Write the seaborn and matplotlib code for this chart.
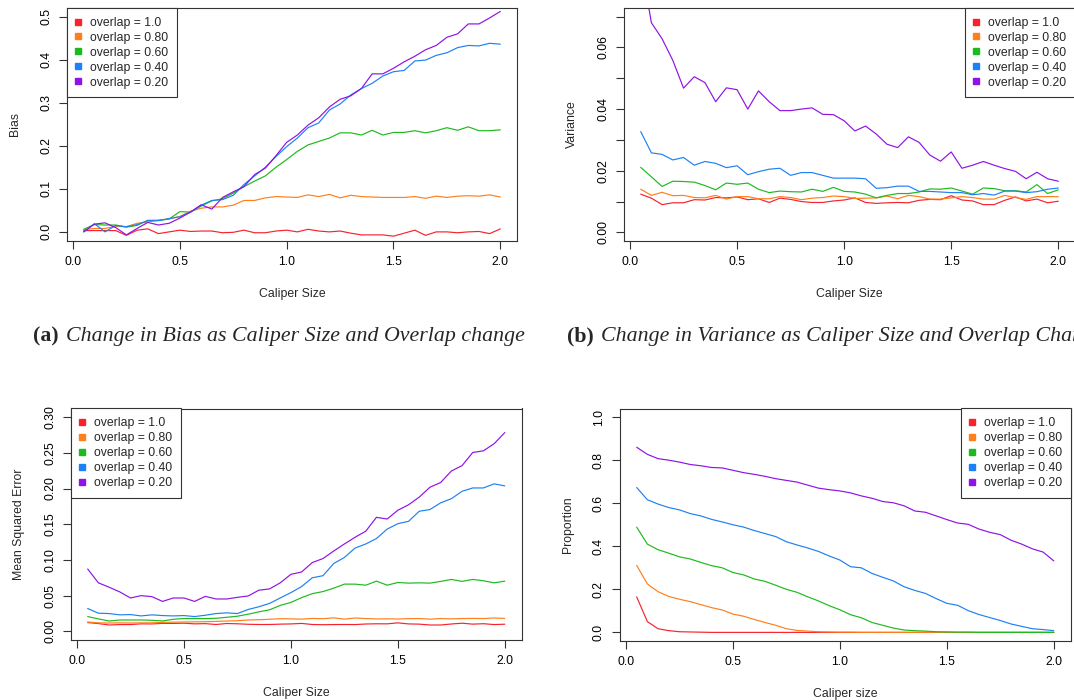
import numpy as np
import pandas as pd
import matplotlib
matplotlib.use("Agg")
import matplotlib.pyplot as plt
import seaborn as sns
from matplotlib.lines import Line2D
from matplotlib.ticker import FixedLocator, FuncFormatter

sns.set_style("white")
plt.rcParams["font.family"] = ["Liberation Sans", "DejaVu Sans"]

caliper = [0.05, 0.10, 0.15, 0.20, 0.25, 0.30, 0.35, 0.40, 0.45, 0.50,
           0.55, 0.60, 0.65, 0.70, 0.75, 0.80, 0.85, 0.90, 0.95, 1.00,
           1.05, 1.10, 1.15, 1.20, 1.25, 1.30, 1.35, 1.40, 1.45, 1.50,
           1.55, 1.60, 1.65, 1.70, 1.75, 1.80, 1.85, 1.90, 1.95, 2.00]

overlaps = ["overlap = 1.0", "overlap = 0.80", "overlap = 0.60", "overlap = 0.40", "overlap = 0.20"]
colors = ["#F8222E", "#FF7F1A", "#1DBA1D", "#1E80F5", "#8F12E6"]

# (a) Bias
bias_100 = [0.003, 0.003, 0.003, 0.003, -0.008, 0.004, 0.007, -0.004, 0.000, 0.004,
            0.001, 0.002, 0.002, -0.002, -0.001, 0.004, -0.002, -0.002, 0.002, 0.004,
            0.000, 0.006, 0.002, 0.000, 0.002, -0.003, -0.007, -0.007, -0.007, -0.010,
            -0.003, 0.004, -0.008, 0.000, 0.000, -0.002, 0.000, 0.001, -0.004, 0.007]
bias_080 = [0.005, 0.008, 0.008, 0.013, 0.012, 0.020, 0.023, 0.027, 0.030, 0.036,
            0.048, 0.055, 0.058, 0.058, 0.062, 0.073, 0.073, 0.079, 0.082, 0.081,
            0.080, 0.086, 0.082, 0.087, 0.079, 0.085, 0.082, 0.081, 0.080, 0.080,
            0.080, 0.082, 0.078, 0.083, 0.080, 0.083, 0.084, 0.083, 0.086, 0.081]
bias_060 = [0.006, 0.017, 0.016, 0.016, 0.011, 0.015, 0.027, 0.027, 0.030, 0.047,
            0.046, 0.060, 0.072, 0.077, 0.090, 0.105, 0.118, 0.130, 0.150, 0.168,
            0.187, 0.202, 0.210, 0.218, 0.230, 0.230, 0.225, 0.236, 0.225, 0.231,
            0.231, 0.235, 0.230, 0.235, 0.242, 0.236, 0.244, 0.235, 0.235, 0.237]
bias_040 = [0.000, 0.019, 0.000, 0.015, 0.012, 0.017, 0.026, 0.026, 0.031, 0.035,
            0.046, 0.062, 0.073, 0.075, 0.085, 0.110, 0.130, 0.150, 0.175, 0.198,
            0.218, 0.242, 0.253, 0.283, 0.297, 0.318, 0.333, 0.345, 0.362, 0.372,
            0.375, 0.397, 0.399, 0.410, 0.416, 0.428, 0.433, 0.432, 0.438, 0.436]
bias_020 = [0.000, 0.018, 0.021, 0.010, -0.007, 0.008, 0.022, 0.016, 0.020, 0.032,
            0.046, 0.063, 0.053, 0.080, 0.093, 0.105, 0.133, 0.148, 0.177, 0.208,
            0.225, 0.248, 0.265, 0.290, 0.308, 0.316, 0.333, 0.367, 0.367, 0.380,
            0.395, 0.408, 0.423, 0.433, 0.452, 0.460, 0.483, 0.483, 0.497, 0.512]

# (b) Variance
var_100 = [0.0124, 0.0111, 0.0090, 0.0096, 0.0096, 0.0106, 0.0105, 0.0113, 0.0112, 0.0115,
           0.0106, 0.0109, 0.0097, 0.0111, 0.0107, 0.0100, 0.0097, 0.0097, 0.0102, 0.0105,
           0.0112, 0.0097, 0.0094, 0.0096, 0.0097, 0.0096, 0.0104, 0.0107, 0.0106, 0.0119,
           0.0105, 0.0102, 0.0090, 0.0090, 0.0104, 0.0115, 0.0102, 0.0108, 0.0096, 0.0101]
var_080 = [0.0140, 0.0120, 0.0130, 0.0119, 0.0120, 0.0113, 0.0112, 0.0120, 0.0108, 0.0116,
           0.0116, 0.0109, 0.0109, 0.0116, 0.0113, 0.0106, 0.0111, 0.0113, 0.0118, 0.0116,
           0.0110, 0.0111, 0.0112, 0.0118, 0.0109, 0.0120, 0.0116, 0.0108, 0.0108, 0.0112,
           0.0116, 0.0113, 0.0108, 0.0108, 0.0120, 0.0113, 0.0107, 0.0116, 0.0116, 0.0116]
var_060 = [0.0211, 0.0180, 0.0149, 0.0166, 0.0165, 0.0163, 0.0152, 0.0138, 0.0160, 0.0156,
           0.0160, 0.0140, 0.0129, 0.0134, 0.0132, 0.0131, 0.0140, 0.0133, 0.0146, 0.0133,
           0.0131, 0.0124, 0.0112, 0.0120, 0.0126, 0.0126, 0.0131, 0.0141, 0.0140, 0.0144,
           0.0134, 0.0124, 0.0144, 0.0142, 0.0135, 0.0135, 0.0131, 0.0155, 0.0126, 0.0138]
var_040 = [0.0327, 0.0258, 0.0253, 0.0235, 0.0243, 0.0218, 0.0230, 0.0224, 0.0210, 0.0216,
           0.0187, 0.0197, 0.0205, 0.0208, 0.0185, 0.0194, 0.0194, 0.0185, 0.0176, 0.0176,
           0.0176, 0.0174, 0.0143, 0.0145, 0.0150, 0.0150, 0.0133, 0.0133, 0.0131, 0.0129,
           0.0129, 0.0122, 0.0126, 0.0121, 0.0134, 0.0134, 0.0129, 0.0132, 0.0140, 0.0144]
var_020 = [0.0880, 0.0680, 0.0628, 0.0558, 0.0468, 0.0505, 0.0486, 0.0424, 0.0469, 0.0463,
           0.0400, 0.0459, 0.0424, 0.0395, 0.0395, 0.0400, 0.0404, 0.0383, 0.0382, 0.0362,
           0.0329, 0.0345, 0.0319, 0.0286, 0.0275, 0.0310, 0.0292, 0.0251, 0.0231, 0.0261,
           0.0208, 0.0218, 0.0230, 0.0218, 0.0207, 0.0198, 0.0174, 0.0195, 0.0174, 0.0166]

# (c) Mean squared error
mse_100 = [0.0124, 0.0110, 0.0090, 0.0096, 0.0096, 0.0106, 0.0105, 0.0113, 0.0112, 0.0115,
           0.0106, 0.0109, 0.0097, 0.0111, 0.0107, 0.0100, 0.0097, 0.0097, 0.0102, 0.0105,
           0.0112, 0.0097, 0.0094, 0.0096, 0.0097, 0.0096, 0.0104, 0.0107, 0.0106, 0.0120,
           0.0105, 0.0102, 0.0090, 0.0090, 0.0104, 0.0115, 0.0102, 0.0108, 0.0096, 0.0101]
mse_080 = [0.0132, 0.0120, 0.0118, 0.0120, 0.0118, 0.0120, 0.0120, 0.0126, 0.0130, 0.0132,
           0.0134, 0.0136, 0.0140, 0.0146, 0.0150, 0.0160, 0.0164, 0.0170, 0.0178, 0.0176,
           0.0172, 0.0182, 0.0178, 0.0190, 0.0172, 0.0188, 0.0180, 0.0175, 0.0176, 0.0174,
           0.0178, 0.0180, 0.0172, 0.0180, 0.0176, 0.0180, 0.0182, 0.0180, 0.0188, 0.0182]
mse_060 = [0.0208, 0.0175, 0.0146, 0.0160, 0.0160, 0.0160, 0.0156, 0.0146, 0.0170, 0.0180,
           0.0180, 0.0180, 0.0184, 0.0198, 0.0213, 0.0241, 0.0274, 0.0302, 0.0364, 0.0406,
           0.0473, 0.0529, 0.0558, 0.0605, 0.0662, 0.0662, 0.0647, 0.0704, 0.0647, 0.0685,
           0.0676, 0.0680, 0.0676, 0.0700, 0.0728, 0.0700, 0.0728, 0.0709, 0.0680, 0.0704]
mse_040 = [0.0321, 0.0255, 0.0250, 0.0232, 0.0236, 0.0217, 0.0232, 0.0222, 0.0217, 0.0222,
           0.0208, 0.0227, 0.0250, 0.0260, 0.0250, 0.0307, 0.0345, 0.0392, 0.0468, 0.0543,
           0.0628, 0.0751, 0.0780, 0.0950, 0.1035, 0.1167, 0.1224, 0.1300, 0.1432, 0.1508,
           0.1541, 0.1682, 0.1706, 0.1800, 0.1857, 0.1961, 0.2008, 0.2008, 0.2065, 0.2037]
mse_020 = [0.0874, 0.0680, 0.0619, 0.0553, 0.0468, 0.0501, 0.0487, 0.0420, 0.0468, 0.0468,
           0.0420, 0.0491, 0.0454, 0.0454, 0.0477, 0.0496, 0.0577, 0.0595, 0.0680, 0.0799,
           0.0832, 0.0964, 0.1020, 0.1125, 0.1224, 0.1318, 0.1403, 0.1597, 0.1573, 0.1696,
           0.1772, 0.1880, 0.2018, 0.2084, 0.2245, 0.2320, 0.2504, 0.2528, 0.2627, 0.2783]

# (d) Proportion
prop_100 = [0.165, 0.050, 0.017, 0.008, 0.003, 0.002, 0.001, 0.000, 0.000, 0.000,
            0.000, 0.000, 0.000, 0.000, 0.000, 0.000, 0.000, 0.000, 0.000, 0.000,
            0.000, 0.000, 0.000, 0.000, 0.000, 0.000, 0.000, 0.000, 0.000, 0.000,
            0.000, 0.000, 0.000, 0.000, 0.000, 0.000, 0.000, 0.000, 0.000, 0.000]
prop_080 = [0.311, 0.225, 0.189, 0.167, 0.154, 0.143, 0.129, 0.115, 0.104, 0.085,
            0.075, 0.060, 0.046, 0.033, 0.017, 0.009, 0.006, 0.003, 0.002, 0.001,
            0.001, 0.000, 0.000, 0.000, 0.000, 0.000, 0.000, 0.000, 0.000, 0.000,
            0.000, 0.000, 0.000, 0.000, 0.000, 0.000, 0.000, 0.000, 0.000, 0.000]
prop_060 = [0.489, 0.410, 0.384, 0.368, 0.351, 0.341, 0.325, 0.310, 0.300, 0.278,
            0.267, 0.248, 0.237, 0.219, 0.200, 0.186, 0.165, 0.146, 0.124, 0.105,
            0.082, 0.068, 0.046, 0.033, 0.020, 0.011, 0.008, 0.006, 0.003, 0.002,
            0.001, 0.001, 0.000, 0.000, 0.000, 0.000, 0.000, 0.000, 0.000, 0.000]
prop_040 = [0.673, 0.616, 0.596, 0.580, 0.569, 0.552, 0.541, 0.525, 0.513, 0.500,
            0.489, 0.473, 0.459, 0.445, 0.421, 0.406, 0.392, 0.376, 0.355, 0.336,
            0.305, 0.300, 0.274, 0.256, 0.239, 0.212, 0.195, 0.181, 0.157, 0.135,
            0.126, 0.101, 0.083, 0.069, 0.055, 0.039, 0.028, 0.017, 0.013, 0.008]
prop_020 = [0.860, 0.827, 0.807, 0.800, 0.791, 0.780, 0.774, 0.766, 0.764, 0.753,
            0.742, 0.734, 0.725, 0.714, 0.706, 0.698, 0.684, 0.670, 0.663, 0.657,
            0.648, 0.634, 0.623, 0.608, 0.602, 0.588, 0.564, 0.558, 0.541, 0.524,
            0.508, 0.502, 0.480, 0.465, 0.454, 0.428, 0.410, 0.388, 0.373, 0.332]

W, H = 1074, 700
fig = plt.figure(figsize=(W / 100, H / 100), dpi=100)


def rect(left, top, right, bottom):
    return [left / W, 1 - bottom / H, (right - left) / W, (bottom - top) / H]


panels = [
    dict(series=[bias_100, bias_080, bias_060, bias_040, bias_020],
         rect=rect(67, 8, 517, 240.5), ylim=(0, 0.5),
         yticks=[0.0, 0.1, 0.2, 0.3, 0.4, 0.5], fmt="{:.1f}", show=None,
         ylabel="Bias", xlabel="Caliper Size", loc="upper left"),
    dict(series=[var_100, var_080, var_060, var_040, var_020],
         rect=rect(624, 8, 1075, 241), ylim=(0, 0.07),
         yticks=[0.0, 0.01, 0.02, 0.03, 0.04, 0.05, 0.06, 0.07], fmt="{:.2f}",
         show=[0.0, 0.02, 0.04, 0.06],
         ylabel="Variance", xlabel="Caliper Size", loc="upper right"),
    dict(series=[mse_100, mse_080, mse_060, mse_040, mse_020],
         rect=rect(71, 408.5, 521.5, 640), ylim=(0, 0.3),
         yticks=[0.0, 0.05, 0.10, 0.15, 0.20, 0.25, 0.30], fmt="{:.2f}", show=None,
         ylabel="Mean Squared Error", xlabel="Caliper Size", loc="upper left"),
    dict(series=[prop_100, prop_080, prop_060, prop_040, prop_020],
         rect=rect(620, 408.5, 1070.5, 641), ylim=(0, 1.0),
         yticks=[0.0, 0.2, 0.4, 0.6, 0.8, 1.0], fmt="{:.1f}", show=None,
         ylabel="Proportion", xlabel="Caliper size", loc="upper right"),
]

FS = 8.8
EDGE = "#333333"

for p in panels:
    ax = fig.add_axes(p["rect"])
    rows = []
    for name, vals in zip(overlaps, p["series"]):
        for c, v in zip(caliper, vals):
            rows.append({"caliper": c, "value": v, "overlap": name})
    df = pd.DataFrame(rows)
    sns.lineplot(data=df, x="caliper", y="value", hue="overlap",
                 hue_order=overlaps, palette=colors, estimator=None,
                 linewidth=0.85, legend=False, ax=ax)
    # R-style 4% axis extension
    x0, x1 = min(caliper), max(caliper)
    dx = (x1 - x0) * 0.04
    ax.set_xlim(x0 - dx, x1 + dx)
    y0, y1 = p["ylim"]
    dy = (y1 - y0) * 0.04
    ax.set_ylim(y0 - dy, y1 + dy)

    ax.xaxis.set_major_locator(FixedLocator([0.0, 0.5, 1.0, 1.5, 2.0]))
    ax.xaxis.set_major_formatter(FuncFormatter(lambda v, pos: f"{v:.1f}"))
    ax.yaxis.set_major_locator(FixedLocator(p["yticks"]))
    show = p["show"]
    fmt = p["fmt"]

    def yf(v, pos, show=show, fmt=fmt):
        if show is not None and not any(abs(v - s) < 1e-9 for s in show):
            return ""
        return fmt.format(v)

    ax.yaxis.set_major_formatter(FuncFormatter(yf))
    ax.tick_params(axis="both", which="major", direction="out", length=5.8,
                   width=0.8, color=EDGE, labelsize=FS, labelcolor="black",
                   bottom=True, left=True, pad=5)
    ax.tick_params(axis="y", labelrotation=90)
    for lab in ax.get_yticklabels():
        lab.set_va("center")
    for s in ax.spines.values():
        s.set_color(EDGE)
        s.set_linewidth(0.8)
        s.set_visible(True)

    ax.set_xlabel(p["xlabel"], fontsize=FS)
    ax.set_ylabel(p["ylabel"], fontsize=FS)
    ax.xaxis.label.set_va("center")
    ax.yaxis.label.set_va("center")
    ax.xaxis.set_label_coords(0.5, -0.228)
    ax.yaxis.set_label_coords(-0.115, 0.5)

    handles = [Line2D([], [], marker="s", linestyle="none", color=c,
                      markersize=4.2) for c in colors]
    leg = ax.legend(handles, overlaps, loc=p["loc"], fontsize=FS,
                    frameon=True, fancybox=False, framealpha=1,
                    edgecolor=EDGE, borderaxespad=0, borderpad=0.72,
                    handlelength=0.35, handletextpad=0.8, labelspacing=0.24)
    leg.get_frame().set_linewidth(0.8)

# Sub-captions
serif = ["Liberation Serif", "DejaVu Serif"]
cy = 1 - 336 / H
CFS = 15.75
fig.text(33 / W, cy, "(a)", fontsize=CFS, fontweight="bold", family=serif,
         ha="left", va="center")
fig.text(66 / W, cy, "Change in Bias as Caliper Size and Overlap change",
         fontsize=CFS, style="italic", family=serif, ha="left", va="center")
fig.text(567 / W, cy, "(b)", fontsize=CFS, fontweight="bold", family=serif,
         ha="left", va="center")
fig.text(601 / W, cy, "Change in Variance as Caliper Size and Overlap Change",
         fontsize=CFS, style="italic", family=serif, ha="left", va="center")

fig.savefig("out.png", dpi=100)
